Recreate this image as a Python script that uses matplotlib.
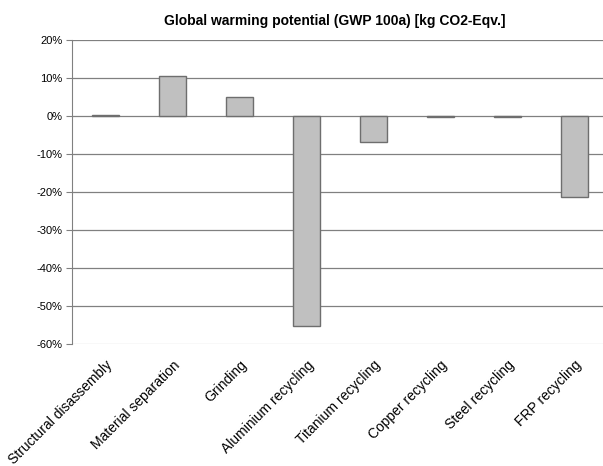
import matplotlib.pyplot as plt
import numpy as np

categories = ['Structural disassembly', 'Material separation', 'Grinding',
              'Aluminium recycling', 'Titanium recycling', 'Copper recycling',
              'Steel recycling', 'FRP recycling']
gwp_share = [0.3, 10.5, 5.0, -55.3, -6.8, -0.2, -0.3, -21.3]
y_ticks = [20, 10, 0, -10, -20, -30, -40, -50, -60]

plt.rcParams['font.family'] = ['Liberation Sans', 'DejaVu Sans']

fig = plt.figure(figsize=(6.03, 4.66), dpi=100)
ax = fig.add_axes([72 / 603, 1 - 344 / 466, 536 / 603, 304 / 466])

x = np.arange(len(categories))
ax.bar(x, gwp_share, width=0.4, color='#c0c0c0', edgecolor='#6e6e6e',
       linewidth=1.0, zorder=3)

ax.set_xlim(-0.5, len(categories) - 0.5)
ax.set_ylim(-60, 20)
ax.set_yticks(y_ticks)
ax.set_yticklabels([f'{t}%' for t in y_ticks], fontsize=8)
ax.yaxis.grid(True, color='#808080', linewidth=0.9, zorder=0)
# bottom gridline is drawn lighter
ax.get_ygridlines()[-1].set_color('#c8c8c8')

ax.set_xticks(x)
ax.set_xticklabels(categories, rotation=45, ha='right', rotation_mode='anchor',
                   fontsize=10)
ax.tick_params(axis='x', length=0, pad=10)
ax.tick_params(axis='y', length=4, color='#808080', pad=3)

for side in ['top', 'right', 'bottom']:
    ax.spines[side].set_visible(False)
ax.spines['left'].set_color('#808080')

fig.text(0.555, 0.955, 'Global warming potential (GWP 100a) [kg CO2-Eqv.]',
         ha='center', va='center', fontsize=10, fontweight='bold')

fig.savefig('out.png', dpi=100)
